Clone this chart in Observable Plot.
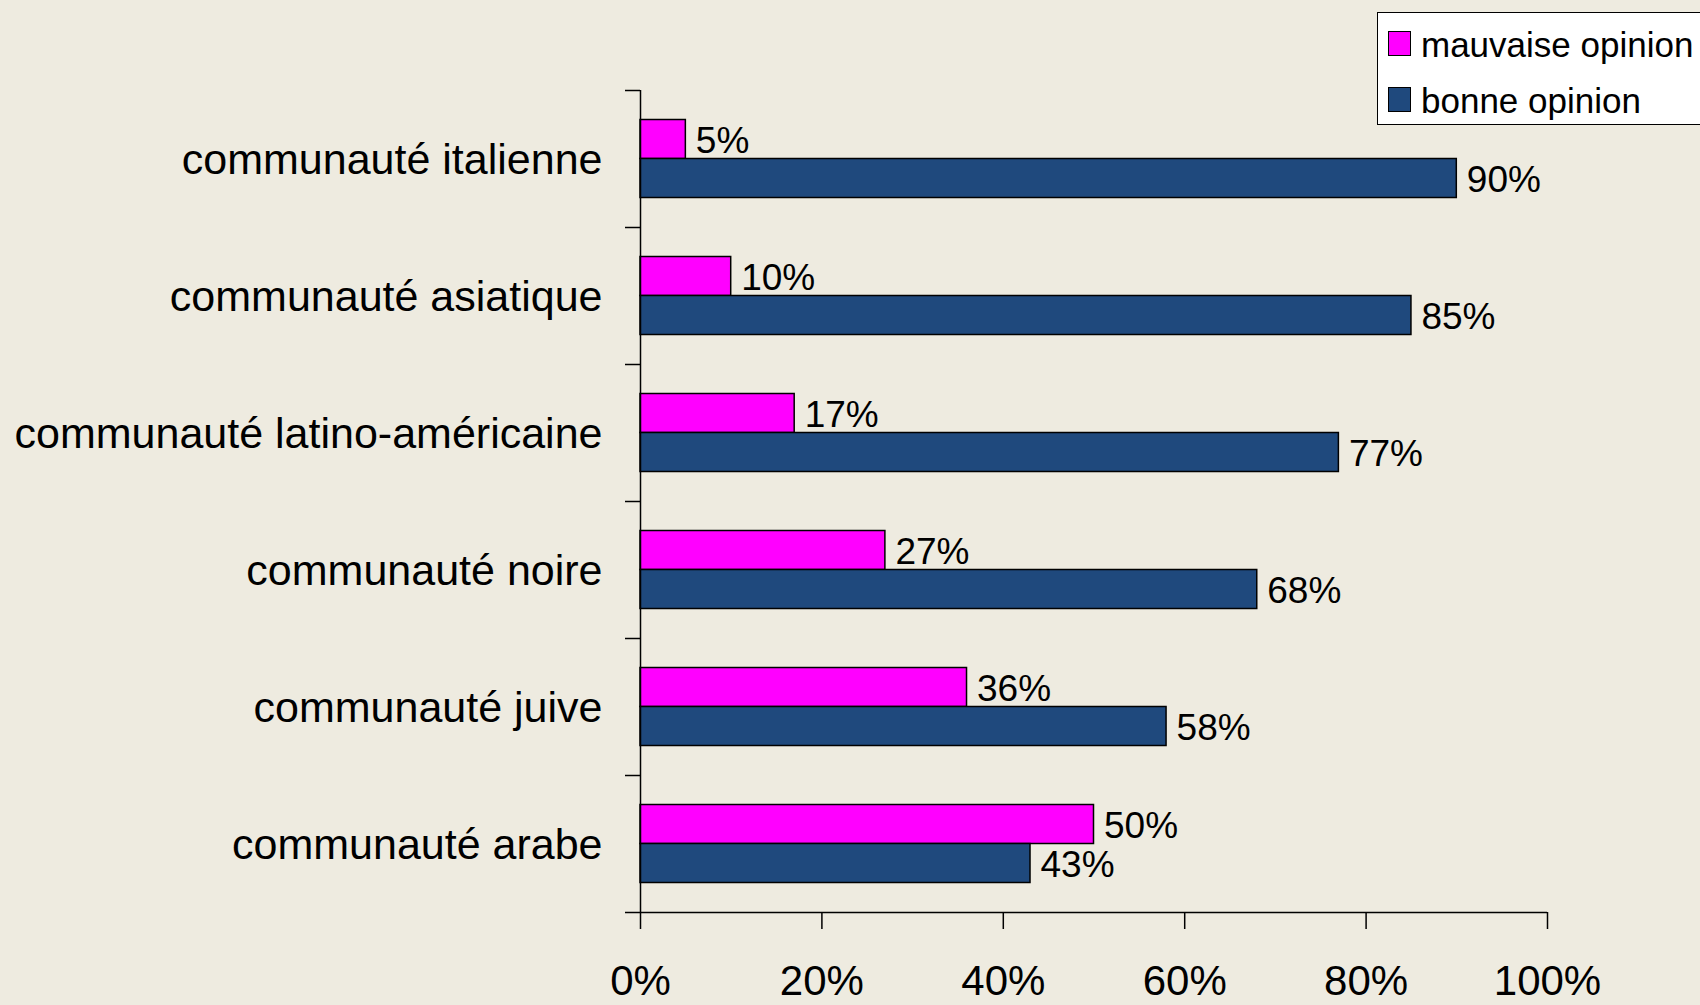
<!DOCTYPE html>
<html><head><meta charset="utf-8">
<script src="https://cdn.jsdelivr.net/npm/d3@7"></script>
<script src="https://cdn.jsdelivr.net/npm/@observablehq/plot@0.6"></script>
<style>
body{margin:0;background:#EEEBE0;overflow:hidden;font-family:"Liberation Sans",Arial,sans-serif;}
#wrap{position:relative;width:1700px;height:1005px;}
#legend{position:absolute;left:1377px;top:12px;width:360px;height:113px;background:#fff;border:1px solid #000;box-sizing:border-box;}
.item{position:absolute;left:10px;font-size:35px;line-height:35px;color:#000;white-space:nowrap;}
.sw{position:absolute;left:0;width:23px;height:25px;border:1px solid #000;box-sizing:border-box;}
.lab{position:absolute;left:33px;}
</style></head>
<body><div id="wrap"><div id="legend"></div></div>
<script>
const categories = ["communauté italienne","communauté asiatique","communauté latino-américaine","communauté noire","communauté juive","communauté arabe"];
const mauvaise = [5,10,17,27,36,50];
const bonne = [90,85,77,68,58,43];
const seriesNames = ["mauvaise opinion","bonne opinion"];
const seriesColors = ["#FF00FF","#1F497D"];
const xTicks = [0,20,40,60,80,100];

const rowsM = categories.map((c,i)=>({cat:c, value:mauvaise[i]}));
const rowsB = categories.map((c,i)=>({cat:c, value:bonne[i]}));

const font = '"Liberation Sans", Arial, sans-serif';
const plot = Plot.plot({
  width:1700, height:1005,
  marginLeft:640, marginRight:153, marginTop:90, marginBottom:93,
  style:{background:"transparent", fontFamily:font, color:"#000"},
  x:{domain:[0,100]},
  y:{domain:categories, padding:0},
  marks:[
    Plot.barX(rowsM, {x:"value", y:"cat", fill:seriesColors[0], stroke:"#000", strokeWidth:1.5, insetTop:29.5, insetBottom:68.5}),
    Plot.barX(rowsB, {x:"value", y:"cat", fill:seriesColors[1], stroke:"#000", strokeWidth:1.5, insetTop:68.5, insetBottom:29.5}),
    Plot.text(rowsM, {x:"value", y:"cat", text:d=>d.value+"%", dx:10, dy:-18, textAnchor:"start", fontSize:37, fill:"#000"}),
    Plot.text(rowsB, {x:"value", y:"cat", text:d=>d.value+"%", dx:10, dy:21, textAnchor:"start", fontSize:37, fill:"#000"}),
    Plot.ruleX([0], {stroke:"#000", strokeWidth:1.5}),
    Plot.ruleY([categories[categories.length-1]], {y:d=>d, x1:0, x2:100, insetLeft:-15, dy:68.5, stroke:"#000", strokeWidth:1.5}),
    Plot.axisY({tickSize:0, tickPadding:38, fontSize:43, dy:1, label:null}),
    Plot.axisY({ticks:categories, tickSize:15, text:null, dy:-68.5, strokeWidth:1.5, label:null}),
    Plot.axisX({ticks:xTicks, tickSize:17, tickPadding:36, tickFormat:d=>d+"%", fontSize:42, strokeWidth:1.5, label:null})
  ]
});
document.getElementById("wrap").prepend(plot);

const legend = document.getElementById("legend");
const tops = [14, 70];
const swTops = [4, 4];
seriesNames.forEach((name,i)=>{
  const it = document.createElement("div");
  it.className="item"; it.style.top = tops[i]+"px";
  it.innerHTML = `<div class="sw" style="background:${seriesColors[i]};top:${swTops[i]}px"></div><span class="lab">${name}</span>`;
  legend.appendChild(it);
});
</script>
</body></html>
